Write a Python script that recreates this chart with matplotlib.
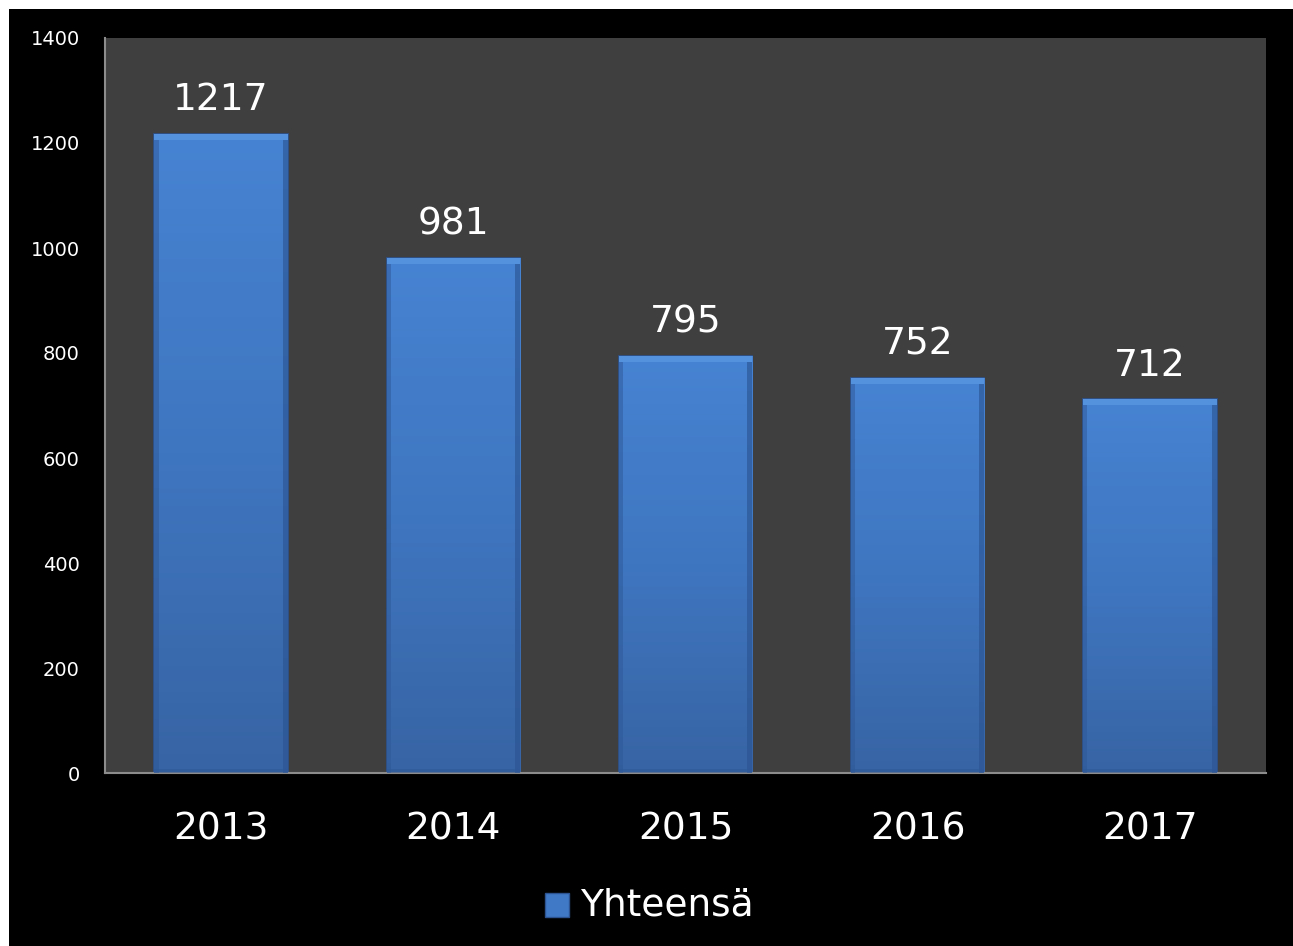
import numpy as np
import matplotlib.pyplot as plt
from matplotlib.patches import Rectangle
from matplotlib.colors import LinearSegmentedColormap

years = ["2013", "2014", "2015", "2016", "2017"]
totals = [1217, 981, 795, 752, 712]
y_ticks = [0, 200, 400, 600, 800, 1000, 1200, 1400]
series_name = "Yhteensä"

fig = plt.figure(figsize=(12.93, 9.46), dpi=100)
fig.patch.set_facecolor("white")
# black panel, thin white strip top and left
fig.patches.append(Rectangle((9 / 1293, -0.1), 1.1, 1.1 - 9 / 946, transform=fig.transFigure,
                             facecolor="black", edgecolor="none", zorder=-5))

ax = fig.add_axes([105 / 1293, 1 - 773 / 946, (1266 - 105) / 1293, (773 - 38) / 946])
ax.set_facecolor("#3f3f3f")

x = np.arange(len(years))
bars = ax.bar(x, totals, width=0.575, color="#4079c6", edgecolor="#2c5290", linewidth=1.2, zorder=2)

# vertical gradient inside each bar
cmap = LinearSegmentedColormap.from_list("bar", ["#3764a4", "#3f76c0", "#4683d2"])
grad = np.linspace(0, 1, 256).reshape(-1, 1)
for b in bars:
    x0, y0, w, h = b.get_x(), b.get_y(), b.get_width(), b.get_height()
    im = ax.imshow(grad, cmap=cmap, origin="lower", aspect="auto",
                   extent=[x0, x0 + w, y0, y0 + h], zorder=2.5)
    im.set_clip_path(b)
    # bevel: light top strip, darker sides and bottom
    ax.add_patch(Rectangle((x0, y0 + h - 12), w, 12, facecolor="#6aa6ee", edgecolor="none",
                           alpha=0.45, zorder=3))
    ax.add_patch(Rectangle((x0 + w - 0.022, y0), 0.022, h - 12, facecolor="#2a5290", edgecolor="none",
                           alpha=0.6, zorder=3))
    ax.add_patch(Rectangle((x0, y0), 0.018, h - 12, facecolor="#2e5898", edgecolor="none",
                           alpha=0.5, zorder=3))
    ax.add_patch(Rectangle((x0, y0), w, 8, facecolor="#2e5898", edgecolor="none",
                           alpha=0.5, zorder=3))

for xi, v in zip(x, totals):
    ax.text(xi, v + 64, str(v), ha="center", va="center", color="white", fontsize=27, zorder=4)

ax.set_xlim(-0.5, len(years) - 0.5)
ax.set_ylim(0, 1400)
ax.set_yticks(y_ticks)
ax.set_yticklabels([str(t) for t in y_ticks], fontsize=14, color="white")
ax.set_xticks(x)
ax.set_xticklabels(years, fontsize=27, color="white")
ax.tick_params(axis="both", length=0)
ax.tick_params(axis="x", pad=28)
ax.tick_params(axis="y", pad=18)

for s in ["top", "right"]:
    ax.spines[s].set_visible(False)
for s in ["left", "bottom"]:
    ax.spines[s].set_color("#8c8c8c")
    ax.spines[s].set_linewidth(1.5)

# legend
fig.patches.append(Rectangle((545 / 1293, 1 - 917 / 946), 24 / 1293, 24 / 946,
                             transform=fig.transFigure, facecolor="#4079c6",
                             edgecolor="#2c5290", linewidth=1, zorder=3))
fig.text(580 / 1293, 1 - 905 / 946, series_name, color="white", fontsize=27,
         ha="left", va="center")

fig.savefig("out.png", dpi=100, facecolor=fig.get_facecolor())
